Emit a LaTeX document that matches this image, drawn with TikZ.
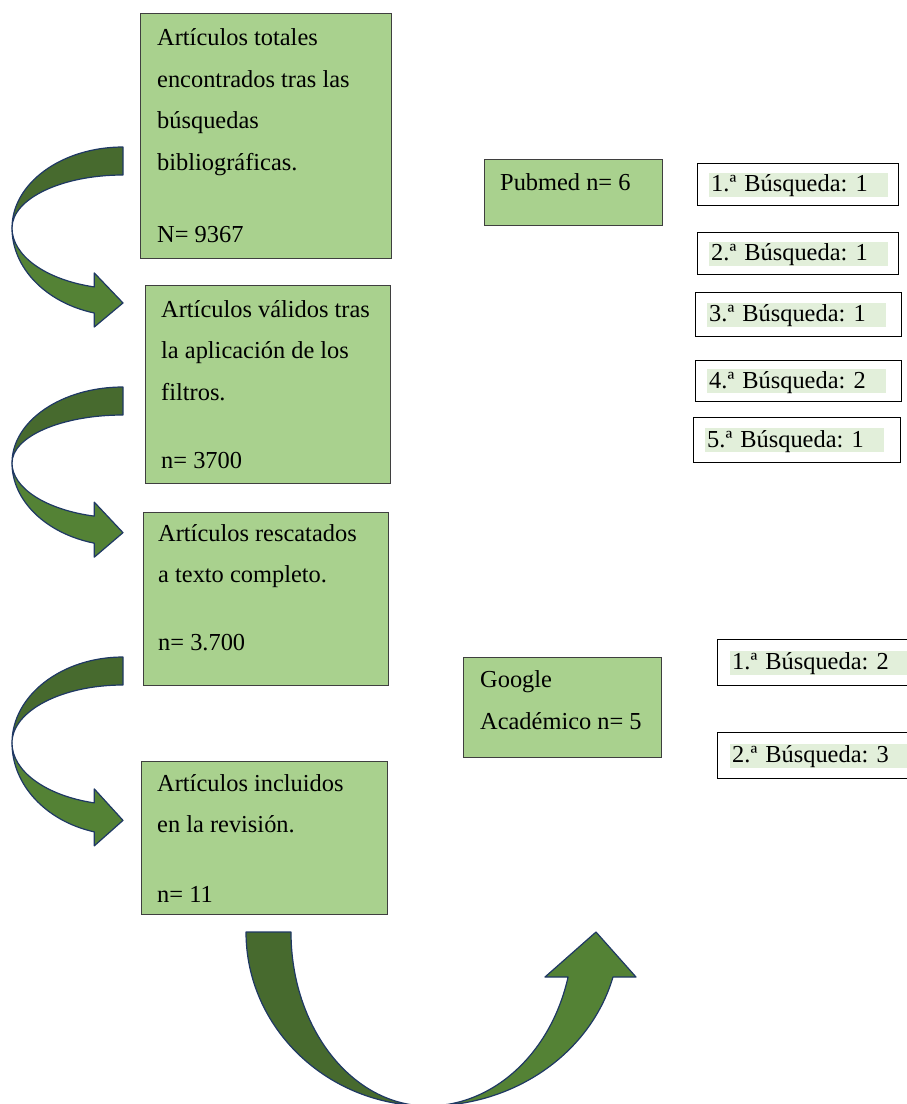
\documentclass[tikz,border=0pt]{standalone}
\usepackage{fontspec}
\setmainfont{Liberation Serif}
\usepackage{tikz}

\definecolor{verdecaja}{HTML}{A9D18E}
\definecolor{verderesalte}{HTML}{E2EFDA}
\definecolor{verdeoscuro}{HTML}{476A2E}
\definecolor{verdeclaro}{HTML}{548235}
\definecolor{azulborde}{HTML}{1F3864}
\definecolor{grisborde}{HTML}{3F3F3F}

% flecha curva a la izquierda: #1 = centro y, #2/#3 = radios arriba (fuera/dentro), #4/#5 = radios abajo (dentro/fuera)
\newcommand{\flechacurva}[5]{%
    \filldraw[flecha oscura] (123,#1-#2) arc[start angle=270, end angle=180, x radius=111, y radius=#2]
        arc[start angle=180, end angle=270, x radius=111, y radius=#3] -- cycle;
    \filldraw[flecha clara] (12,#1) arc[start angle=180, end angle=105, x radius=111, y radius=#5]
        -- ++(0,14) -- (123,{#1+0.483*(#4+#5)+3}) -- (94.27,{#1+0.966*#4-14}) -- (94.27,{#1+0.966*#4})
        arc[start angle=105, end angle=180, x radius=111, y radius=#4] -- cycle;
}

\begin{document}
\begin{tikzpicture}[x=1pt, y=-1pt,
        font=\fontsize{24.4}{41.5}\selectfont\frenchspacing,
        caja/.style={draw=grisborde, line width=1.3pt, fill=verdecaja, anchor=north west, inner sep=0pt},
        texto/.style={anchor=base west, align=left, inner sep=0pt}, % base = ultima linea
        busqueda/.style={draw=black, line width=1pt, fill=white, anchor=north west, inner sep=0pt},
        resalte/.style={fill=verderesalte, anchor=west, inner xsep=2pt, inner ysep=0pt,
            text height=19pt, text depth=5pt, text width=175pt},
        flecha oscura/.style={fill=verdeoscuro, draw=azulborde, line width=1.2pt, line join=round},
        flecha clara/.style={fill=verdeclaro, draw=azulborde, line width=1.2pt, line join=round}
        ]
    \useasboundingbox (0,0) rectangle (907,1104);

    % Cajas de la izquierda
    \node[caja, minimum width=251pt, minimum height=245pt] (caja1) at (140,13) {};
    \node[texto] (texto1) at (157,242) {Artículos totales\\encontrados tras las\\búsquedas\\bibliográficas.\\[30.5pt]N= 9367};

    \node[caja, minimum width=245pt, minimum height=198pt] (caja2) at (145,285) {};
    \node[texto] (texto2) at (161,468) {Artículos válidos tras\\la aplicación de los\\filtros.\\[26.5pt]n= 3700};

    \node[caja, minimum width=245pt, minimum height=173pt] (caja3) at (143,512) {};
    \node[texto] (texto3) at (158,650) {Artículos rescatados\\a texto completo.\\[26pt]n= 3.700};

    \node[caja, minimum width=246pt, minimum height=153pt] (caja4) at (141,761) {};
    \node[texto] (texto4) at (157,902) {Artículos incluidos\\en la revisión.\\[28pt]n= 11};

    % Bases de datos
    \node[caja, minimum width=178pt, minimum height=66pt] (pubmed) at (484,159) {};
    \node[texto] (tpubmed) at (500,190) {Pubmed n= 6};

    \node[caja, minimum width=198pt, minimum height=100pt] (google) at (463,657) {};
    \node[texto] (tgoogle) at (480,729) {Google\\Académico n= 5};

    % Búsquedas
    \node[busqueda, minimum width=201pt, minimum height=42pt] (p1) at (697,163) {};
    \node[resalte] (r1) at ([shift={(12,0)}]p1.west) {1.ª Búsqueda: 1};
    \node[busqueda, minimum width=201pt, minimum height=42pt] (p2) at (697,232) {};
    \node[resalte] (r2) at ([shift={(12,0)}]p2.west) {2.ª Búsqueda: 1};
    \node[busqueda, minimum width=206pt, minimum height=44pt] (p3) at (695,292) {};
    \node[resalte] (r3) at ([shift={(12,0)}]p3.west) {3.ª Búsqueda: 1};
    \node[busqueda, minimum width=206pt, minimum height=41pt] (p4) at (695,360) {};
    \node[resalte] (r4) at ([shift={(12,0)}]p4.west) {4.ª Búsqueda: 2};
    \node[busqueda, minimum width=207pt, minimum height=45pt] (p5) at (693,417) {};
    \node[resalte] (r5) at ([shift={(12,0)}]p5.west) {5.ª Búsqueda: 1};

    \node[busqueda, minimum width=200pt, minimum height=46pt] (g1) at (717,639) {};
    \node[resalte] (s1) at ([shift={(13,0)}]g1.west) {1.ª Búsqueda: 2};
    \node[busqueda, minimum width=200pt, minimum height=46pt] (g2) at (717,732) {};
    \node[resalte] (s2) at ([shift={(13,0)}]g2.west) {2.ª Búsqueda: 3};

    % Flechas curvas
    \flechacurva{228}{81}{53}{61}{88}
    \flechacurva{463}{76}{48}{55}{83}
    \flechacurva{743}{86}{58}{62}{92}

    \filldraw[flecha oscura] (246,932) arc[start angle=180, end angle=90, x radius=182, y radius=174]
        arc[start angle=90, end angle=180, x radius=137, y radius=174] -- cycle;
    \filldraw[flecha clara] (428,1106) arc[start angle=90, end angle=15, x radius=191.5, y radius=174]
        -- (636,977) -- (596,932) -- (545,977) -- (568.06,977)
        arc[start angle=15, end angle=90, x radius=145, y radius=174] -- cycle;
\end{tikzpicture}
\end{document}
